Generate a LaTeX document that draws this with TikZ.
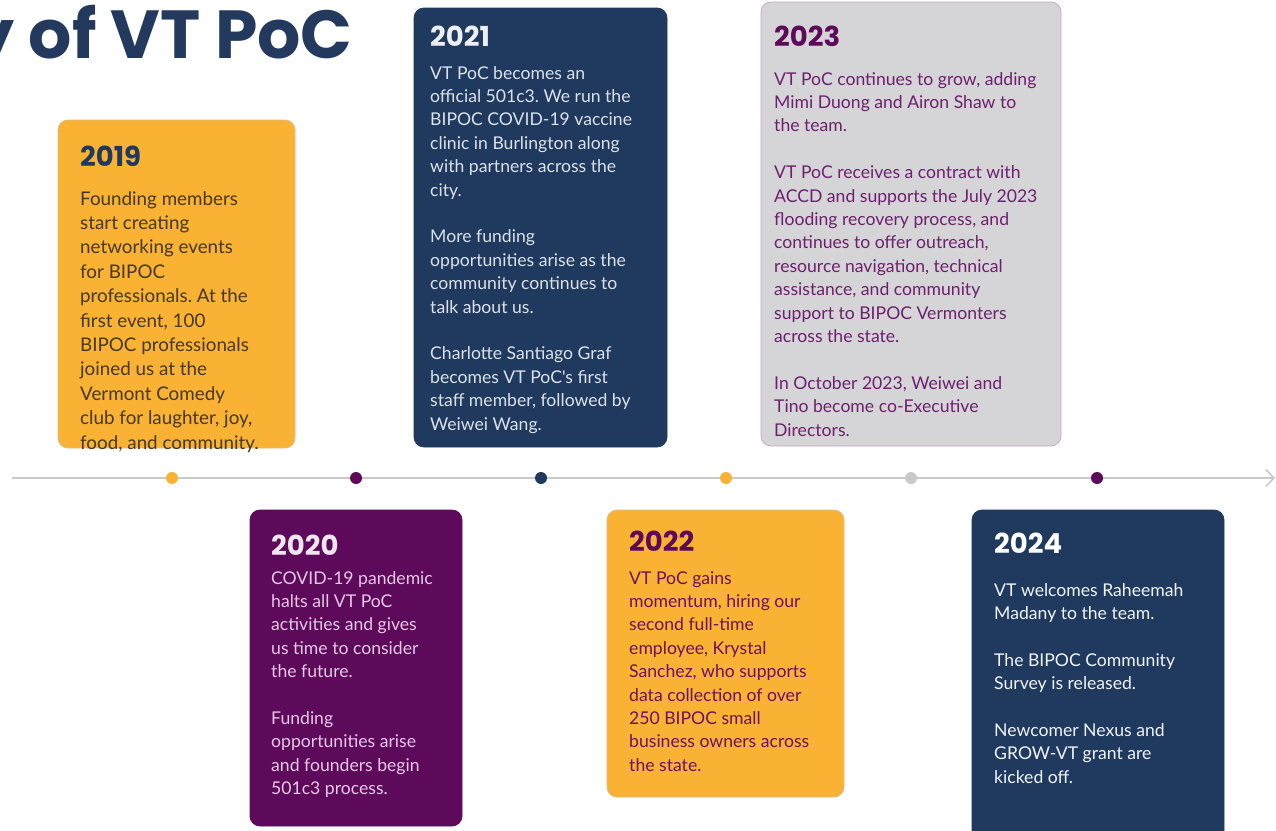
\documentclass[tikz,border=0pt]{standalone}
\usepackage{fontspec}
\usetikzlibrary{arrows.meta}
\newfontfamily\bodyf{Lato}
\newfontfamily\yearf{Poppins}
\definecolor{vtorange}{HTML}{F9B234}
\definecolor{vtpurple}{HTML}{5D0A5B}
\definecolor{vtnavy}{HTML}{1F3A5E}
\definecolor{vtgray}{HTML}{D5D5D7}
\definecolor{vtline}{HTML}{C9C9C9}
\definecolor{titlenavy}{HTML}{233A5E}
\definecolor{txtbrown}{HTML}{45391F}
\definecolor{txtpink}{HTML}{E6C8E6}
\definecolor{txtlight}{HTML}{DCE1E8}
\definecolor{txtpurple}{HTML}{6B1262}
\definecolor{txtplum}{HTML}{6E1F6E}
\newcommand{\bodytext}[2]{\parbox[t]{#1}{\frenchspacing\raggedright #2}}
\tikzset{
  card/.style={rounded corners=10pt, line width=0.8pt},
  yearlbl/.style={anchor=base west, inner sep=0pt, font=\yearf\bfseries\fontsize{27.5}{30}\selectfont},
  bodylbl/.style={anchor=base west, inner sep=0pt, font=\bodyf\fontsize{17.6}{23.4}\selectfont},
  dot/.style={circle, inner sep=0pt, minimum size=12pt},
}
\begin{document}
\begin{tikzpicture}[x=1pt,y=-1pt]
\useasboundingbox (0,0) rectangle (1276,830);
\fill[white] (0,0) rectangle (1276,830);
% title
\node[anchor=base east, inner sep=0pt, text=titlenavy, font=\yearf\bfseries\fontsize{68}{70}\selectfont] (title) at (353,58) {y of VT PoC};
% timeline
\coordinate (tlstart) at (12,478);
\coordinate (tlend) at (1275,478);
\draw[vtline, line width=2.6pt, -{Straight Barb[length=8pt,width=17pt,line width=1.6pt]}] (tlstart) -- (tlend);
\node[dot, fill=vtorange] (d19) at (172,478) {};
\node[dot, fill=vtpurple] (d20) at (356,478) {};
\node[dot, fill=vtnavy] (d21) at (541,478) {};
\node[dot, fill=vtorange] (d22) at (726,478) {};
\node[dot, fill=vtline] (d23) at (911,478) {};
\node[dot, fill=vtpurple] (d24) at (1097,478) {};
% cards
\draw[card, fill=vtorange, draw=vtorange!80!black!60] (58,120) rectangle (295,448);
\draw[card, fill=vtpurple, draw=vtpurple] (250,510) rectangle (462,826);
\draw[card, fill=vtnavy, draw=vtnavy] (414,8) rectangle (667,447);
\draw[card, fill=vtorange, draw=vtorange!80!black!60] (607,510) rectangle (844,797);
\draw[card, fill=vtgray, draw=vtpurple!35] (761,2) rectangle (1061,446);
\draw[card, fill=vtnavy, draw=vtnavy] (972,510) rectangle (1224,845);
% 2019
\node[yearlbl, text=vtnavy] (y19) at (80,166.5) {2019};
\node[bodylbl, text=txtbrown, font=\bodyf\fontsize{18.8}{24.4}\selectfont] (t19) at (80,205) {\bodytext{215pt}{Founding members\\start creating\\networking events\\for BIPOC\\professionals. At the\\first event, 100\\BIPOC professionals\\joined us at the\\Vermont Comedy\\club for laughter, joy,\\food, and community.}};
% 2020
\node[yearlbl, text=white!90!vtpurple] (y20) at (271,555.5) {2020};
\node[bodylbl, text=txtpink] (t20) at (271,584) {\bodytext{190pt}{COVID-19 pandemic\\halts all VT PoC\\activities and gives\\us time to consider\\the future.\\[23.4pt]Funding\\opportunities arise\\and founders begin\\501c3 process.}};
% 2021
\node[yearlbl, text=white!92!vtnavy] (y21) at (430,46.5) {2021};
\node[bodylbl, text=txtlight] (t21) at (430,79) {\bodytext{230pt}{VT PoC becomes an\\official 501c3. We run the\\BIPOC COVID-19 vaccine\\clinic in Burlington along\\with partners across the\\city.\\[23.4pt]More funding\\opportunities arise as the\\community continues to\\talk about us.\\[23.4pt]Charlotte Santiago Graf\\becomes VT PoC's first\\staff member, followed by\\Weiwei Wang.}};
% 2022
\node[yearlbl, text=vtpurple] (y22) at (629,551.5) {2022};
\node[bodylbl, text=txtpurple] (t22) at (629,584) {\bodytext{210pt}{VT PoC gains\\momentum, hiring our\\second full-time\\employee, Krystal\\Sanchez, who supports\\data collection of over\\250 BIPOC small\\business owners across\\the state.}};
% 2023
\node[yearlbl, text=vtpurple] (y23) at (774,46.5) {2023};
\node[bodylbl, text=txtplum] (t23) at (774,85) {\bodytext{280pt}{VT PoC continues to grow, adding\\Mimi Duong and Airon Shaw to\\the team.\\[23.4pt]VT PoC receives a contract with\\ACCD and supports the July 2023\\flooding recovery process, and\\continues to offer outreach,\\resource navigation, technical\\assistance, and community\\support to BIPOC Vermonters\\across the state.\\[23.4pt]In October 2023, Weiwei and\\Tino become co-Executive\\Directors.}};
% 2024
\node[yearlbl, text=white] (y24) at (994,553.5) {2024};
\node[bodylbl, text=white!94!vtnavy] (t24) at (994,596) {\bodytext{225pt}{VT welcomes Raheemah\\Madany to the team.\\[23.4pt]The BIPOC Community\\Survey is released.\\[23.4pt]Newcomer Nexus and\\GROW-VT grant are\\kicked off.}};
\end{tikzpicture}
\end{document}
